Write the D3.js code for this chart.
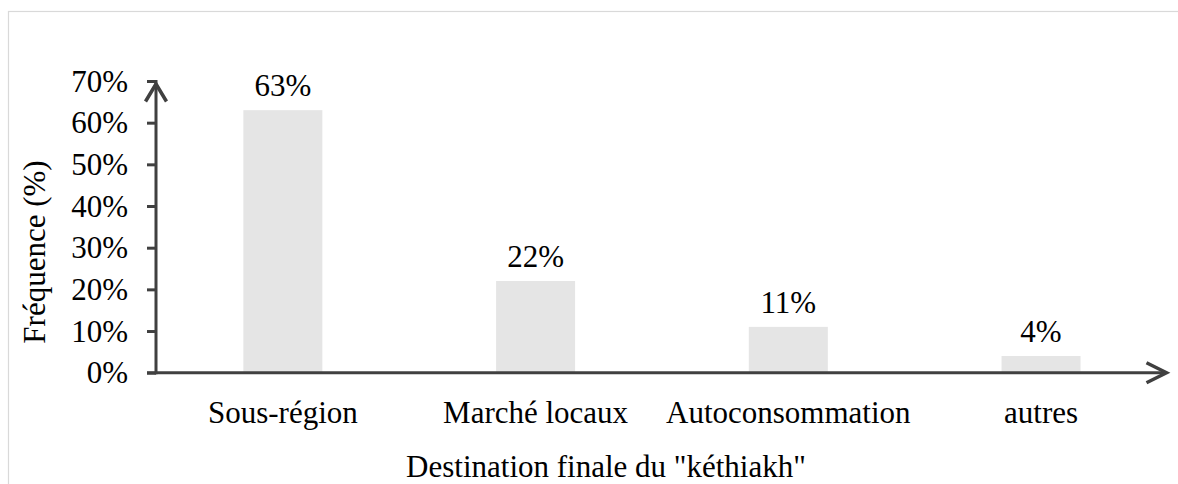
<!DOCTYPE html>
<html><head><meta charset="utf-8">
<script src="https://cdn.jsdelivr.net/npm/d3@7"></script>
<style>
html,body{margin:0;padding:0;background:#fff;overflow:hidden;}
text{font-family:"Liberation Serif","Times New Roman",serif;fill:#000;}
</style></head>
<body>
<svg id="c" width="1178" height="484"></svg>
<script>
const categories = ["Sous-région", "Marché locaux", "Autoconsommation", "autres"];
const values = [0.63, 0.22, 0.11, 0.04];
const valueLabels = ["63%", "22%", "11%", "4%"];
const yTicks = [0, 0.1, 0.2, 0.3, 0.4, 0.5, 0.6, 0.7];
const yTickLabels = ["0%", "10%", "20%", "30%", "40%", "50%", "60%", "70%"];
const xTitle = 'Destination finale du "kéthiakh"';
const yTitle = "Fréquence (%)";

const svg = d3.select("#c");
const FS = 31;
const axisColor = "#404040";

// frame
svg.append("rect").attr("x", 8.5).attr("y", 11.5).attr("width", 1200).attr("height", 500)
  .attr("fill", "none").attr("stroke", "#d9d9d9").attr("stroke-width", 1.2);

const x = d3.scaleBand().domain(categories).range([156.5, 1167.4]).paddingInner(0.6874).paddingOuter(0.3437);
const y = d3.scaleLinear().domain([0, 0.7]).range([372.7, 81]);

// bars
svg.selectAll("rect.bar").data(values).enter().append("rect").attr("class", "bar")
  .attr("x", (d, i) => x(categories[i])).attr("width", x.bandwidth())
  .attr("y", d => y(d)).attr("height", d => y(0) - y(d))
  .attr("fill", "#e5e5e5");

// value labels
svg.selectAll("text.val").data(values).enter().append("text").attr("class", "val")
  .attr("x", (d, i) => x(categories[i]) + x.bandwidth() / 2)
  .attr("y", d => y(d) - 14)
  .attr("text-anchor", "middle").attr("font-size", FS)
  .text((d, i) => valueLabels[i]);

// y axis
const yAxis = d3.axisLeft(y).tickValues(yTicks).tickSize(9).tickFormat((d, i) => yTickLabels[i]);
const gy = svg.append("g").attr("transform", "translate(156,0)").call(yAxis);
gy.select(".domain").remove();
gy.selectAll(".tick line").attr("stroke", axisColor).attr("stroke-width", 3);
gy.selectAll(".tick text").attr("font-size", FS).attr("font-family", '"Liberation Serif","Times New Roman",serif')
  .attr("fill", "#000").attr("x", -28).attr("dy", "0.33em");

// y axis line + arrow
svg.append("line").attr("x1", 156).attr("x2", 156).attr("y1", y(0) + 1.5).attr("y2", y(0.7) - 1)
  .attr("stroke", axisColor).attr("stroke-width", 3);
svg.append("path")
  .attr("d", `M${156 - 10.5},${y(0.7) + 20.5} L156,${y(0.7) + 3} L${156 + 10.5},${y(0.7) + 20.5}`)
  .attr("fill", "none").attr("stroke", axisColor).attr("stroke-width", 3.5);

// x axis line + arrow
const xEnd = 1166.5;
svg.append("line").attr("x1", 147).attr("x2", xEnd - 1).attr("y1", y(0)).attr("y2", y(0))
  .attr("stroke", axisColor).attr("stroke-width", 3);
svg.append("path")
  .attr("d", `M${xEnd - 20},${y(0) - 10} L${xEnd},${y(0)} L${xEnd - 20},${y(0) + 10}`)
  .attr("fill", "none").attr("stroke", axisColor).attr("stroke-width", 3.5);

// category labels
svg.selectAll("text.cat").data(categories).enter().append("text").attr("class", "cat")
  .attr("x", d => x(d) + x.bandwidth() / 2).attr("y", 422.5)
  .attr("text-anchor", "middle").attr("font-size", FS).text(d => d);

// titles
svg.append("text").attr("x", 606).attr("y", 477).attr("text-anchor", "middle")
  .attr("font-size", FS).text(xTitle);
svg.append("text").attr("transform", "translate(45,252) rotate(-90)").attr("text-anchor", "middle")
  .attr("font-size", FS).text(yTitle);
</script>
</body></html>
